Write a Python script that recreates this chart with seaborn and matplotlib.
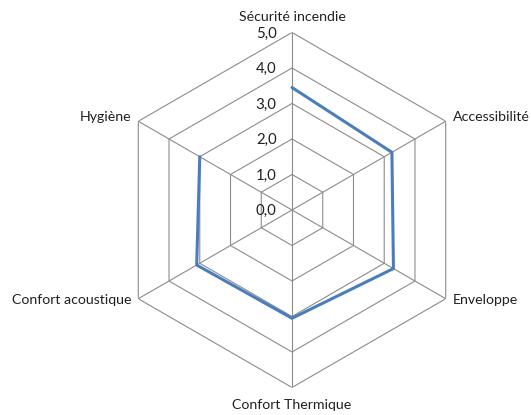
import numpy as np
import pandas as pd
import matplotlib
matplotlib.use("Agg")
import matplotlib.pyplot as plt
import seaborn as sns

# ==========================================
# DATA
# ==========================================
categories = ["Sécurité incendie", "Accessibilité", "Enveloppe",
              "Confort Thermique", "Confort acoustique", "Hygiène"]
scores = [3.45, 3.25, 3.3, 3.05, 3.1, 3.0]
levels = [0, 1, 2, 3, 4, 5]
level_labels = ["0,0", "1,0", "2,0", "3,0", "4,0", "5,0"]

# ==========================================
# STYLE
# ==========================================
sns.set_theme(style="white")
plt.rcParams['font.family'] = ['Lato', 'DejaVu Sans']

GRID_COLOR = "#8C8C8C"
LINE_COLOR = "#4A7EBB"

n = len(categories)
angles = np.linspace(0, 2 * np.pi, n, endpoint=False)
closed_angles = np.append(angles, angles[0])

fig = plt.figure(figsize=(5.31, 4.15), dpi=100)
ax = fig.add_axes([0.2156, 0.0663, 0.6686, 0.8554], projection="polar")
ax.set_theta_offset(np.pi / 2)
ax.set_theta_direction(-1)
ax.set_ylim(0, 5)
ax.grid(False)
ax.spines["polar"].set_visible(False)
ax.set_xticks([])
ax.set_yticks([])
ax.patch.set_alpha(0)

# hexagonal grid rings
for lv in levels[1:]:
    ax.plot(closed_angles, [lv] * (n + 1), color=GRID_COLOR, lw=0.8, zorder=1)

# spokes
for a in angles:
    ax.plot([a, a], [0, levels[-1]], color=GRID_COLOR, lw=0.8, zorder=1)

# value labels along top spoke
for lv, lab in zip(levels, level_labels):
    ax.annotate(lab, xy=(0, lv), xytext=(-11, -1), textcoords="offset points",
                ha="right", va="center", fontsize=10.8, color="#202020")

# data series
df = pd.DataFrame({"angle": closed_angles,
                   "score": scores + [scores[0]]})
sns.lineplot(data=df, x="angle", y="score", sort=False, ax=ax,
             color=LINE_COLOR, lw=2.2, zorder=3)
ax.set_xlabel("")
ax.set_ylabel("")

# category labels
offsets = [(0, 7), (5, 3), (5, -1), (0, -8), (-5, -1), (-5, 3)]
aligns = [("center", "bottom"), ("left", "center"), ("left", "center"),
          ("center", "top"), ("right", "center"), ("right", "center")]
for a, cat, off, (ha, va) in zip(angles, categories, offsets, aligns):
    ax.annotate(cat, xy=(a, levels[-1]), xytext=off, textcoords="offset points",
                ha=ha, va=va, fontsize=10.2, color="#202020",
                annotation_clip=False)

fig.savefig("out.png", dpi=100)
plt.close(fig)
